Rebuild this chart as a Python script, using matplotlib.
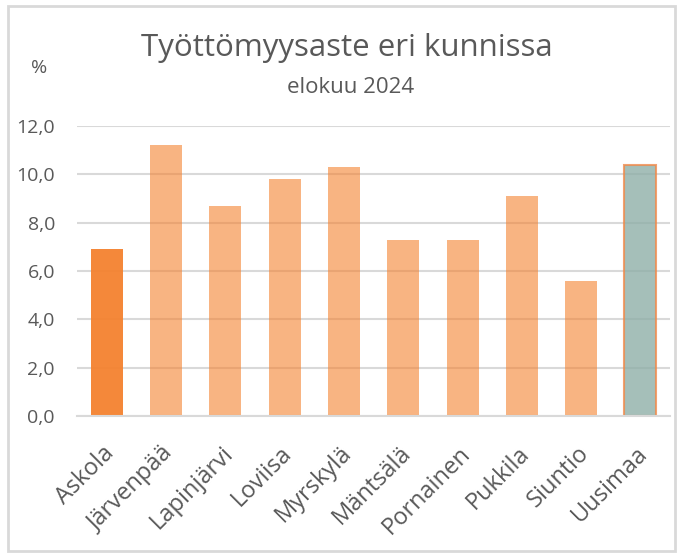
"""Työttömyysaste eri kunnissa, elokuu 2024."""

import matplotlib.pyplot as plt
import matplotlib.transforms as mtransforms
from matplotlib.patches import Rectangle

KUNNAT = ["Askola", "Järvenpää", "Lapinjärvi", "Loviisa", "Myrskylä",
          "Mäntsälä", "Pornainen", "Pukkila", "Siuntio", "Uusimaa"]
ASTE = [6.9, 11.2, 8.7, 9.8, 10.3, 7.3, 7.3, 9.1, 5.6, 10.4]
Y_TICKS = [0, 2, 4, 6, 8, 10, 12]

TEXT = "#595959"
ORANGE = "#F4822F"

plt.rcParams["font.family"] = ["Open Sans", "DejaVu Sans"]

fig = plt.figure(figsize=(6.83, 5.55), dpi=100)
fig.patches.append(Rectangle((0.011, 0.008), 0.978, 0.982, transform=fig.transFigure,
                             fill=False, edgecolor="#d9d9d9", lw=2))
ax = fig.add_axes([0.113, 0.2505, 0.868, 0.5225])

colors = []
alphas = []
for k in KUNNAT:
    if k == "Askola":
        colors.append(ORANGE)
        alphas.append(0.95)
    elif k == "Uusimaa":
        colors.append("#8FAFA8")
        alphas.append(0.8)
    else:
        colors.append(ORANGE)
        alphas.append(0.6)

bars = ax.bar(range(len(KUNNAT)), ASTE, width=0.54, color=colors, zorder=2)
for b, a, k in zip(bars, alphas, KUNNAT):
    b.set_alpha(a)
    if k == "Uusimaa":
        b.set_edgecolor("#F08A4B")
        b.set_linewidth(1.5)

ax.set_xlim(-0.5, len(KUNNAT) - 0.5)
ax.set_ylim(0, 12)
ax.set_yticks(Y_TICKS)
ax.set_yticklabels([f"{v:.1f}".replace(".", ",") for v in Y_TICKS],
                   fontsize=14, color=TEXT)
ax.yaxis.grid(True, color="#d9d9d9", lw=1.5, zorder=1)
ax.set_axisbelow(True)
ax.set_xticks(range(len(KUNNAT)))
ax.set_xticklabels([])
ax.tick_params(axis="x", length=0)
ax.tick_params(axis="y", length=0, pad=16)

# category labels, rotated, set down-left of each bar
shift = mtransforms.ScaledTranslation(0.04, -0.34, fig.dpi_scale_trans)
for i, k in enumerate(KUNNAT):
    ax.text(i, 0, k, transform=ax.get_xaxis_transform() + shift,
            rotation=45, ha="right", va="center", rotation_mode="anchor",
            fontsize=17, color=TEXT)

for s in ["top", "right", "left"]:
    ax.spines[s].set_visible(False)
ax.spines["bottom"].set_color("#d9d9d9")
ax.spines["bottom"].set_linewidth(1.5)

fig.text(0.508, 0.913, "Työttömyysaste eri kunnissa", ha="center", va="center",
         fontsize=22.5, color=TEXT)
fig.text(0.513, 0.842, "elokuu 2024", ha="center", va="center",
         fontsize=16, color=TEXT)
fig.text(0.058, 0.877, "%", ha="center", va="center", fontsize=14, color=TEXT)

fig.savefig("out.png", dpi=100)
